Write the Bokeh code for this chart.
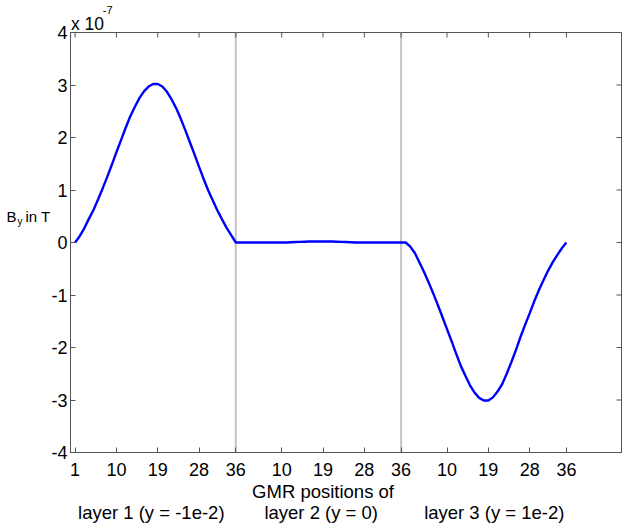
from bokeh.plotting import figure
from bokeh.models import LinearAxis, FixedTicker, Range1d
from bokeh.embed import file_html
from bokeh.resources import INLINE

# B_y values in units of 1e-7 T, one per GMR position (1..36) per layer
layer1 = [0.00, 0.12, 0.27, 0.45, 0.62, 0.82, 1.03, 1.25, 1.48, 1.72, 1.95, 2.18,
          2.40, 2.58, 2.75, 2.88, 2.97, 3.02, 3.02, 2.97, 2.87, 2.73, 2.56, 2.36,
          2.14, 1.91, 1.68, 1.44, 1.21, 0.99, 0.80, 0.61, 0.44, 0.28, 0.14, 0.00]
layer2 = [0.00, 0.00, 0.00, 0.00, 0.00, 0.00, 0.00, 0.00, 0.00, 0.00, 0.00, 0.005,
          0.01, 0.012, 0.015, 0.018, 0.02, 0.02, 0.02, 0.02, 0.018, 0.015, 0.012, 0.01,
          0.005, 0.00, 0.00, 0.00, 0.00, 0.00, 0.00, 0.00, 0.00, 0.00, 0.00, 0.00]
layer3 = [0.00, -0.08, -0.20, -0.38, -0.56, -0.76, -0.97, -1.19, -1.42, -1.65, -1.88, -2.12,
          -2.35, -2.54, -2.72, -2.86, -2.96, -3.01, -3.01, -2.95, -2.84, -2.70, -2.50, -2.28,
          -2.05, -1.80, -1.57, -1.35, -1.12, -0.91, -0.72, -0.54, -0.38, -0.24, -0.11, 0.00]
n_pos = 36
layers = [layer1, layer2, layer3]

tick_positions = [1, 10, 19, 28, 36, 46, 55, 64, 72, 82, 91, 100, 108]
tick_labels = ["1", "10", "19", "28", "36", "10", "19", "28", "36", "10", "19", "28", "36"]
separators = [36, 72]
y_ticks = [-4, -3, -2, -1, 0, 1, 2, 3, 4]
y_tick_labels = ["-4", "-3", "-2", "-1", "0", "1", "2", "3", "4"]

xlabel_line1 = "GMR positions of"
xlabel_line1_pos = [55.0]
layer_names = ["layer 1 (y = -1e-2)", "layer 2 (y = 0)", "layer 3 (y = 1e-2)"]
layer_name_pos = [17.6, 54.6, 92.3]

# "x 10^-7" multiplier and "B_y in T" label pieces
exp_base, exp_base_pos = "x 10", [3.7]
exp_power, exp_power_pos = "-7", [8.1]
ylab_b, ylab_sub, ylab_rest = "B", "y", "in T"
ylab_pos = [0.5]
ylab_sub_pos = [0.40]

X_MIN, X_MAX, Y_MIN, Y_MAX = 0, 120, -4, 4
FONT = "Liberation Sans"
AX = "#555555"

xs, ys = [], []
for k, lay in enumerate(layers):
    for i, v in enumerate(lay):
        xs.append(k * n_pos + i + 1)
        ys.append(v)

p = figure(width=628, height=532, x_range=Range1d(X_MIN, X_MAX), y_range=Range1d(Y_MIN, Y_MAX),
           output_backend="svg", toolbar_location=None,
           min_border_left=70, min_border_right=7, min_border_top=32, min_border_bottom=80)
p.background_fill_color = "white"
p.border_fill_color = "white"
p.outline_line_color = AX
p.outline_line_width = 1
p.xgrid.visible = False
p.ygrid.visible = False

for s in separators:
    p.line([s, s], [Y_MIN, Y_MAX], line_color="#c8c8c8", line_width=2.2)

p.line(xs, ys, line_color="#0000ff", line_width=2.4)

# mirrored inward ticks on top and right edges of the box (5 px long)
tick_dy = 5 * (Y_MAX - Y_MIN) / 420
tick_dx = 5 * (X_MAX - X_MIN) / 551
p.segment(x0=tick_positions, y0=[Y_MAX] * len(tick_positions),
          x1=tick_positions, y1=[Y_MAX - tick_dy] * len(tick_positions),
          line_color=AX, line_width=1)
p.segment(x0=[X_MAX] * len(y_ticks), y0=y_ticks,
          x1=[X_MAX - tick_dx] * len(y_ticks), y1=y_ticks,
          line_color=AX, line_width=1)

xa = p.xaxis[0]
xa.ticker = FixedTicker(ticks=tick_positions)
xa.major_label_overrides = {t: l for t, l in zip(tick_positions, tick_labels)}
ya = p.yaxis[0]
ya.ticker = FixedTicker(ticks=y_ticks)
ya.major_label_overrides = {t: l for t, l in zip(y_ticks, y_tick_labels)}

for ax in (xa, ya):
    ax.axis_line_color = AX
    ax.major_tick_line_color = AX
    ax.major_tick_in = 5
    ax.major_tick_out = 0
    ax.minor_tick_line_color = None
    ax.major_label_text_font = FONT
    ax.major_label_text_font_size = "18px"
    ax.major_label_text_color = "black"
xa.major_label_standoff = 10
ya.major_label_standoff = 3


def text_axis(pos, labels, standoff, size):
    a = LinearAxis(ticker=FixedTicker(ticks=pos))
    a.major_label_overrides = {t: l for t, l in zip(pos, labels)}
    a.axis_line_color = None
    a.major_tick_line_color = None
    a.minor_tick_line_color = None
    a.major_tick_in = 0
    a.major_tick_out = 0
    a.major_label_standoff = standoff
    a.major_label_text_font = FONT
    a.major_label_text_font_size = size
    a.major_label_text_color = "black"
    return a


# x label (two lines)
p.add_layout(text_axis(xlabel_line1_pos, [xlabel_line1], 2, "18.5px"), "below")
p.add_layout(text_axis(layer_name_pos, layer_names, -3, "18.5px"), "below")

# multiplier at top-left
p.add_layout(text_axis(exp_base_pos, [exp_base], -1, "17.5px"), "above")
p.add_layout(text_axis(exp_power_pos, [exp_power], -3, "11px"), "above")

# y label "B_y in T" (pieces stacked outward from the tick labels)
p.add_layout(text_axis(ylab_pos, [ylab_rest], -2, "15px"), "left")
p.add_layout(text_axis(ylab_sub_pos, [ylab_sub], 0, "10px"), "left")
p.add_layout(text_axis(ylab_pos, [ylab_b], -2, "15px"), "left")

open("out.html", "w").write(file_html(p, INLINE))
